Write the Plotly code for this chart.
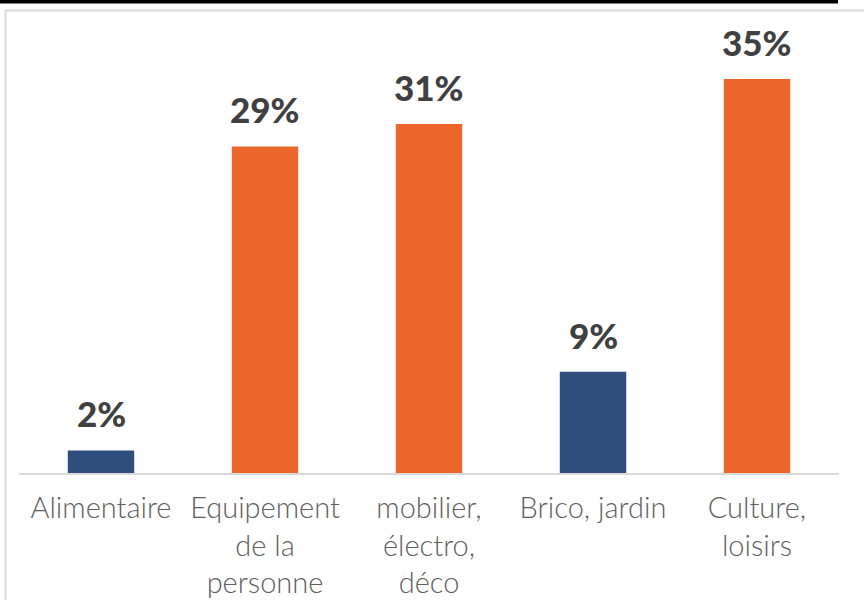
import plotly.graph_objects as go

categories = ["Alimentaire", "Equipement<br>de la<br>personne", "mobilier,<br>électro,<br>déco",
              "Brico, jardin", "Culture,<br>loisirs"]
values = [2, 29, 31, 9, 35]
labels = ["2%", "29%", "31%", "9%", "35%"]
bar_colors = ["#2F4E7E", "#EC652B", "#EC652B", "#2F4E7E", "#EC652B"]

W, H = 864, 600
ml, mr, mt, mb = 19, 25, 40, 127
pw, ph = W - ml - mr, H - mt - mb

def px(x):
    return (x - ml) / pw

def py(y):
    return (H - mb - y) / ph

fig = go.Figure()
fig.add_trace(go.Bar(x=categories, y=values, marker=dict(color=bar_colors, line=dict(width=0)),
                     width=0.405, hoverinfo="skip"))

for c, v, t in zip(categories, values, labels):
    fig.add_annotation(x=c, y=v, text=t, showarrow=False, yanchor="bottom", yshift=14,
                       font=dict(family="Lato", size=35, color="#404040", weight=900))

fig.update_layout(
    width=W, height=H,
    margin=dict(l=ml, r=mr, t=mt, b=mb),
    paper_bgcolor="white", plot_bgcolor="white",
    showlegend=False,
    bargap=0.6,
    xaxis=dict(showline=True, linecolor="#D9D9D9", linewidth=2, ticks="", showgrid=False,
               ticklabelstandoff=8, automargin=False,
               tickfont=dict(family="Lato", size=29, color="#606060", weight=300), fixedrange=True),
    yaxis=dict(range=[0, ph / 11.26], visible=False, showgrid=False, fixedrange=True,
               automargin=False),
    shapes=[
        dict(type="rect", xref="paper", yref="paper", x0=px(5.5), x1=px(900), y0=py(10.5), y1=py(640),
             line=dict(color="#D9D9D9", width=2), fillcolor="rgba(0,0,0,0)", layer="below"),
        dict(type="rect", xref="paper", yref="paper", x0=px(0), x1=px(838), y0=py(3.5), y1=py(-2),
             line=dict(width=0), fillcolor="black"),
    ],
)

fig.write_html("out.html")
